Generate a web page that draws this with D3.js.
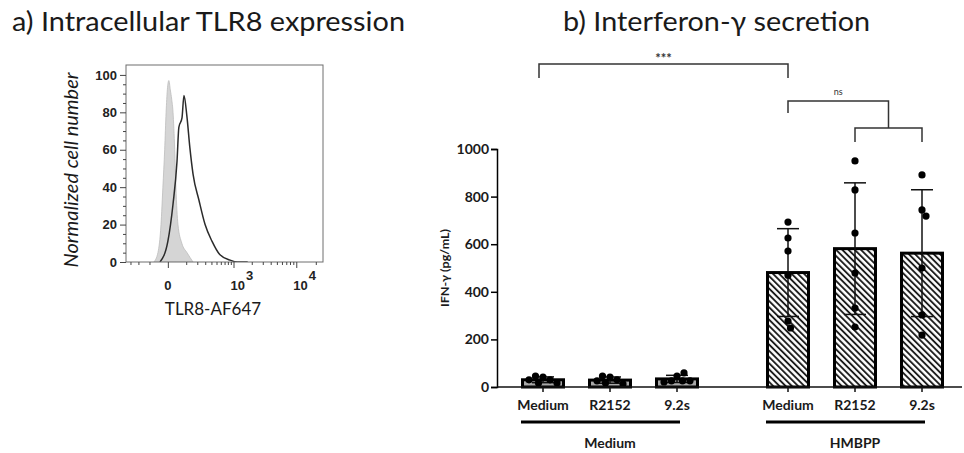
<!DOCTYPE html>
<html lang="en">
<head>
<meta charset="utf-8">
<title>TLR8 / IFN-gamma</title>
<script src="https://cdn.jsdelivr.net/npm/d3@7"></script>
<style>
  body { margin: 0; background: #fff; }
  svg { display: block; }
</style>
</head>
<body>
<script>

// ---- a) histogram: TLR8-AF647 intensity vs normalized cell number
var isoX = [-70, -46, -30, -21, -13, -7, -2, 4, 10, 16, 22, 30, 36, 47, 70, 106, 157];
var isoY = [0, 5, 20, 40, 60, 80, 92, 97, 92, 87, 80, 60, 40, 20, 10, 5, 0];
var tlrX = [-35, 0, 22, 42, 52, 71, 84, 105, 129, 157, 219, 298, 412, 573, 877, 1160, 1720];
var tlrY = [0, 11, 31, 54, 72, 77, 89, 78, 61, 47, 33, 20, 11, 4, 1, 0, 0];
var histYTicks = [0, 20, 40, 60, 80, 100];
var histYMinor = [5, 10, 15, 25, 30, 35, 45, 50, 55, 65, 70, 75, 85, 90, 95];
var histXMajor = [0, 1000, 10000];
var histXMinor = [-300, -200, -100, 100, 200, 300, 400, 500, 600, 700, 800, 900,
                  2000, 3000, 4000, 5000, 6000, 7000, 8000, 9000, 20000];

// ---- b) IFN-gamma secretion (pg/mL), one value per donor
var groups = ["Medium", "HMBPP"];
var treatments = ["Medium", "R2152", "9.2s"];
var ctlMedium = [42, 30, 46, 30, 17, 17];
var ctlR2152  = [42, 30, 46, 26, 17, 13];
var ctl92s    = [46, 26, 26, 59, 26, 21];
var hmbMedium = [693, 626, 571, 470, 277, 248];
var hmbR2152  = [950, 828, 647, 479, 332, 252];
var hmb92s    = [891, 744, 718, 500, 303, 218];
var ifnTicks  = [0, 200, 400, 600, 800, 1000];

var w = 964, h = 453;
var svg = d3.select("body").append("svg").attr("width", w).attr("height", h);

var lato = "Lato, 'Open Sans', sans-serif";
var arial = "'Liberation Sans', Arial, sans-serif";

function fitText(sel, target) {
  var len = sel.node().getComputedTextLength();
  sel.attr("font-size", parseFloat(sel.attr("font-size")) * target / len);
}

// titles
svg.append("text").attr("x", 12).attr("y", 31)
  .attr("font-family", lato).attr("font-size", 26.5).attr("fill", "#1a1a1a")
  .attr("textLength", 393).attr("lengthAdjust", "spacingAndGlyphs")
  .text("a) Intracellular TLR8 expression");
svg.append("text").attr("x", 563).attr("y", 31)
  .attr("font-family", lato).attr("font-size", 26.5).attr("fill", "#1a1a1a")
  .attr("textLength", 307).attr("lengthAdjust", "spacingAndGlyphs")
  .text("b) Interferon-\u03b3 secretion");

// =================== panel a ===================
var hx = d3.scaleSymlog().constant(110).domain([-370, 25800]).range([126, 323]);
var hy = d3.scaleLinear().domain([0, 105.3]).range([262, 65]);

var pa = svg.append("g");
pa.append("clipPath").attr("id", "boxclip").append("rect")
  .attr("x", 126).attr("y", 65).attr("width", 197).attr("height", 197);

var iso = d3.zip(isoX, isoY);
var tlr = d3.zip(tlrX, tlrY);

pa.append("path").datum(iso)
  .attr("clip-path", "url(#boxclip)")
  .attr("fill", "#d5d5d5").attr("stroke", "#bdbdbd").attr("stroke-width", 0.8)
  .attr("d", d3.area().x(function(d){ return hx(d[0]); })
    .y0(hy(0)).y1(function(d){ return hy(d[1]); }).curve(d3.curveMonotoneX));

pa.append("path").datum(tlr)
  .attr("clip-path", "url(#boxclip)")
  .attr("fill", "none").attr("stroke", "#2b2b2b").attr("stroke-width", 1.5)
  .attr("d", d3.line().x(function(d){ return hx(d[0]); })
    .y(function(d){ return hy(d[1]); }).curve(d3.curveMonotoneX));

pa.append("rect").attr("x", 126).attr("y", 65).attr("width", 197).attr("height", 197)
  .attr("fill", "none").attr("stroke", "#6e6e6e").attr("stroke-width", 1);

// y axis
var ayMaj = pa.append("g").attr("transform", "translate(126,0)")
  .call(d3.axisLeft(hy).tickValues(histYTicks).tickSize(6).tickPadding(3));
pa.append("g").attr("transform", "translate(126,0)")
  .call(d3.axisLeft(hy).tickValues(histYMinor).tickSize(3).tickFormat(""));
// x axis
pa.append("g").attr("transform", "translate(0,262)")
  .call(d3.axisBottom(hx).tickValues(histXMajor).tickSize(6).tickFormat(""));
pa.append("g").attr("transform", "translate(0,262)")
  .call(d3.axisBottom(hx).tickValues(histXMinor).tickSize(3).tickFormat(""));
pa.selectAll(".domain").remove();
pa.selectAll(".tick line").attr("stroke", "#444");
ayMaj.selectAll("text").attr("font-family", arial).attr("font-weight", "bold")
  .attr("font-size", 13).attr("fill", "#222");

// x tick labels 0, 10^3, 10^4
var xl = pa.selectAll("text.xl").data(histXMajor).enter().append("text")
  .attr("class", "xl")
  .attr("font-family", arial).attr("font-weight", "bold").attr("font-size", 13)
  .attr("fill", "#222").attr("y", 290)
  .attr("x", function(d){ return d === 0 ? hx(d) : hx(d) - 3; })
  .attr("text-anchor", function(d){ return d === 0 ? "middle" : "start"; });
xl.each(function(d){
  var s = d3.select(this);
  if (d === 0) { s.text("0"); return; }
  s.append("tspan").text("10");
  s.append("tspan").attr("dy", -10).attr("dx", 1).text(Math.round(Math.log10(d)));
});

pa.append("text").attr("x", 213).attr("y", 315).attr("text-anchor", "middle")
  .attr("font-family", lato).attr("font-size", 17).attr("fill", "#1a1a1a")
  .text("TLR8-AF647");

pa.append("text").attr("transform", "translate(78,170) rotate(-90)")
  .attr("text-anchor", "middle").attr("font-family", lato).attr("font-style", "italic")
  .attr("font-size", 19.5).attr("fill", "#1a1a1a")
  .attr("textLength", 195).attr("lengthAdjust", "spacingAndGlyphs")
  .text("Normalized cell number");

// =================== panel b ===================
var y = d3.scaleLinear().domain([0, 1000]).range([387, 149]);
var x0 = d3.scalePoint().domain(groups).range([610, 855]);
var x1 = d3.scalePoint().domain(treatments).range([-67, 67]);

var rows = [
  { g: "Medium", t: "Medium", v: ctlMedium },
  { g: "Medium", t: "R2152",  v: ctlR2152 },
  { g: "Medium", t: "9.2s",   v: ctl92s },
  { g: "HMBPP",  t: "Medium", v: hmbMedium },
  { g: "HMBPP",  t: "R2152",  v: hmbR2152 },
  { g: "HMBPP",  t: "9.2s",   v: hmb92s }
];
rows.forEach(function(r){
  r.cx = x0(r.g) + x1(r.t);
  r.mean = d3.mean(r.v);
  r.sd = d3.deviation(r.v);
});

var defs = svg.append("defs");
var pat = defs.append("pattern").attr("id", "hatch").attr("patternUnits", "userSpaceOnUse")
  .attr("width", 4.4).attr("height", 4.4).attr("patternTransform", "rotate(-45)");
pat.append("rect").attr("width", 4.4).attr("height", 4.4).attr("fill", "#fff");
pat.append("line").attr("x1", 1).attr("x2", 1).attr("y1", 0).attr("y2", 4.4)
  .attr("stroke", "#111").attr("stroke-width", 1.8);

var pb = svg.append("g");
var barW = 41;

pb.selectAll("rect.bar").data(rows).enter().append("rect")
  .attr("class", "bar")
  .attr("x", function(d){ return d.cx - barW / 2; })
  .attr("y", function(d){ return y(d.mean); })
  .attr("width", barW)
  .attr("height", function(d){ return y(0) - y(d.mean); })
  .attr("fill", function(d){ return d.g === "HMBPP" ? "url(#hatch)" : "#a9a9a9"; })
  .attr("stroke", "#000").attr("stroke-width", 3);

// error bars (mean +/- SD)
var eb = pb.selectAll("g.eb").data(rows).enter().append("g").attr("class", "eb")
  .attr("stroke", "#111").attr("stroke-width", 1.5);
eb.append("line")
  .attr("x1", function(d){ return d.cx; }).attr("x2", function(d){ return d.cx; })
  .attr("y1", function(d){ return y(Math.max(0, d.mean - d.sd)); })
  .attr("y2", function(d){ return y(d.mean + d.sd); });
eb.append("line")
  .attr("x1", function(d){ return d.cx - 11; }).attr("x2", function(d){ return d.cx + 11; })
  .attr("y1", function(d){ return y(d.mean + d.sd); })
  .attr("y2", function(d){ return y(d.mean + d.sd); });
eb.filter(function(d){ return d.mean - d.sd > 0; }).append("line")
  .attr("x1", function(d){ return d.cx - 11; }).attr("x2", function(d){ return d.cx + 11; })
  .attr("y1", function(d){ return y(d.mean - d.sd); })
  .attr("y2", function(d){ return y(d.mean - d.sd); });

// dots, spread sideways where they would overlap
var dotR = 3.6;
function swarm(vals, cx) {
  var placed = [];
  return vals.map(function(v){
    var py = y(v), off = 0;
    for (var k = 0; k < 40; k += 0.5) {
      var cands = k === 0 ? [0] : [k, -k];
      var hit = cands.find(function(c){
        return placed.every(function(p){ return Math.hypot(p.x - c, p.y - py) >= dotR * 2; });
      });
      if (hit !== undefined) { off = hit; break; }
    }
    placed.push({ x: off, y: py });
    return { x: cx + off, y: py };
  });
}
rows.forEach(function(r){
  pb.selectAll(null).data(swarm(r.v, r.cx)).enter().append("circle")
    .attr("cx", function(d){ return d.x; }).attr("cy", function(d){ return d.y; })
    .attr("r", dotR).attr("fill", "#000");
});

// axes
var ay = pb.append("g").attr("transform", "translate(497,0)")
  .call(d3.axisLeft(y).tickValues(ifnTicks).tickSize(6).tickPadding(2).tickFormat(d3.format("d")));
ay.select(".domain").attr("stroke-width", 1.5);
ay.selectAll(".tick line").attr("stroke-width", 1.5);
ay.selectAll("text").attr("font-family", lato).attr("font-weight", "bold")
  .attr("font-size", 14).attr("fill", "#1a1a1a");

pb.append("line").attr("x1", 497).attr("x2", 962).attr("y1", y(0)).attr("y2", y(0))
  .attr("stroke", "#111").attr("stroke-width", 1.5);
pb.selectAll("line.xt").data(rows).enter().append("line").attr("class", "xt")
  .attr("x1", function(d){ return d.cx; }).attr("x2", function(d){ return d.cx; })
  .attr("y1", y(0)).attr("y2", y(0) + 5).attr("stroke", "#111").attr("stroke-width", 1.5);
pb.selectAll("text.xt").data(rows).enter().append("text").attr("class", "xt")
  .attr("x", function(d){ return d.cx; }).attr("y", 410).attr("text-anchor", "middle")
  .attr("font-family", lato).attr("font-weight", "bold").attr("font-size", 14)
  .attr("fill", "#1a1a1a").text(function(d){ return d.t; });

// group underline + label
pb.selectAll("line.grp").data(groups).enter().append("line").attr("class", "grp")
  .attr("x1", function(d){ return x0(d) - 89; }).attr("x2", function(d){ return x0(d) + 70; })
  .attr("y1", 422).attr("y2", 422).attr("stroke", "#000").attr("stroke-width", 3);
pb.selectAll("text.grp").data(groups).enter().append("text").attr("class", "grp")
  .attr("x", function(d){ return x0(d); }).attr("y", 448).attr("text-anchor", "middle")
  .attr("font-family", lato).attr("font-weight", "bold").attr("font-size", 14)
  .attr("fill", "#1a1a1a").text(function(d){ return d; });

pb.append("text").attr("transform", "translate(449,268) rotate(-90)")
  .attr("text-anchor", "middle").attr("font-family", lato).attr("font-weight", "bold")
  .attr("font-size", 11).attr("fill", "#1a1a1a")
  .attr("textLength", 78).attr("lengthAdjust", "spacingAndGlyphs")
  .text("IFN-\u03b3 (pg/mL)");

// significance brackets
var cMed1 = x0("Medium") + x1("Medium");
var cMed2 = x0("HMBPP") + x1("Medium");
var cR = x0("HMBPP") + x1("R2152");
var c9 = x0("HMBPP") + x1("9.2s");
var mid = (cR + c9) / 2;
var br = pb.append("g").attr("fill", "none").attr("stroke", "#333").attr("stroke-width", 1.5);
br.append("path").attr("d", d3.line()([[cMed1 - 4, 78], [cMed1 - 4, 64], [cMed2, 64], [cMed2, 78]]));
br.append("path").attr("d", d3.line()([[cMed2, 113], [cMed2, 101], [mid, 101], [mid, 128]]));
br.append("path").attr("d", d3.line()([[cR, 142], [cR, 128], [c9, 128], [c9, 142]]));

pb.append("text").attr("x", (cMed1 + cMed2) / 2 - 2).attr("y", 63).attr("text-anchor", "middle")
  .attr("font-family", lato).attr("font-weight", "bold").attr("font-size", 13)
  .attr("fill", "#333").text("***");
pb.append("text").attr("x", (cMed2 + mid) / 2).attr("y", 95).attr("text-anchor", "middle")
  .attr("font-family", lato).attr("font-size", 9).attr("fill", "#333").text("ns");

</script>
</body>
</html>
